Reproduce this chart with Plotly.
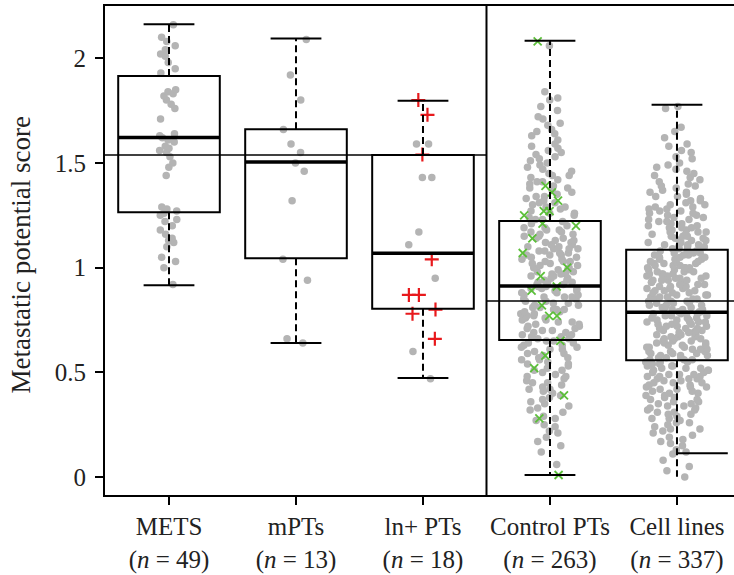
import plotly.graph_objects as go

# ---------------- data ----------------
categories = ["METS", "mPTs", "ln+ PTs", "Control PTs", "Cell lines"]
counts = [49, 13, 18, 263, 337]

# box statistics
q1 = [1.265, 1.045, 0.804, 0.655, 0.558]
median = [1.621, 1.505, 1.069, 0.913, 0.787]
q3 = [1.915, 1.661, 1.538, 1.223, 1.085]
whisker_low = [0.916, 0.640, 0.473, 0.010, 0.002]
whisker_high = [2.162, 2.094, 1.797, 2.084, 1.778]
cap_low = [0.916, 0.640, 0.473, 0.010, 0.114]

# reference (mean) levels of the two panels
ref_left = 1.538
ref_right = 0.841

mets = [2.16, 2.10, 2.08, 2.06, 2.04, 2.02, 2.01, 1.98, 1.95, 1.93, 1.85, 1.84, 1.83,
        1.82, 1.80, 1.78, 1.76, 1.71, 1.64, 1.63, 1.62, 1.61, 1.60, 1.58, 1.57, 1.56,
        1.55, 1.53, 1.50, 1.48, 1.44, 1.29, 1.28, 1.27, 1.26, 1.25, 1.23, 1.22, 1.20,
        1.18, 1.16, 1.14, 1.13, 1.12, 1.10, 1.05, 1.03, 1.00, 0.92]

mpts = [2.09, 1.92, 1.80, 1.66, 1.59, 1.55, 1.50, 1.46, 1.32, 1.04, 0.94, 0.66, 0.64]

ln_gray = [1.59, 1.59, 1.43, 1.43, 1.17, 1.11, 0.95, 0.60, 0.47]
ln_red = [1.80, 1.73, 1.54, 1.04, 0.87, 0.87, 0.80, 0.78, 0.66]

control_green = [2.08, 1.39, 1.36, 1.32, 1.27, 1.27, 1.25, 1.21, 1.20, 1.14, 1.07, 1.00,
                 0.96, 0.91, 0.89, 0.82, 0.77, 0.77, 0.65, 0.58, 0.52, 0.39, 0.28, 0.01]

control_gray = [
    2.06, 1.84, 1.81, 1.80, 1.77, 1.75, 1.72, 1.71,
    1.69, 1.68, 1.66, 1.65, 1.64, 1.63, 1.61,
    1.59, 1.58, 1.57, 1.56, 1.55, 1.54, 1.53, 1.52, 1.51, 1.50,
    1.49, 1.48, 1.47, 1.46, 1.45, 1.44, 1.44, 1.43, 1.42, 1.41, 1.41, 1.40,
    1.39, 1.38, 1.38, 1.37, 1.36, 1.35, 1.34, 1.34, 1.33, 1.32, 1.31, 1.31, 1.30,
    1.29, 1.29, 1.28, 1.27, 1.26, 1.26, 1.25, 1.24, 1.23, 1.23, 1.22, 1.21, 1.20,
    1.19, 1.19, 1.18, 1.18, 1.17, 1.17, 1.16, 1.16, 1.15, 1.15, 1.14, 1.14, 1.13, 1.13,
    1.12, 1.12, 1.11, 1.11, 1.10, 1.10,
    1.09, 1.09, 1.09, 1.08, 1.08, 1.07, 1.07, 1.06, 1.06, 1.06, 1.05, 1.05, 1.04, 1.04,
    1.03, 1.03, 1.03, 1.02, 1.02, 1.01, 1.01, 1.00, 1.00,
    0.99, 0.99, 0.98, 0.98, 0.97, 0.97, 0.97, 0.96, 0.96, 0.95, 0.95, 0.94, 0.94, 0.93,
    0.93, 0.93, 0.92, 0.92, 0.91, 0.91, 0.90, 0.90, 0.90,
    0.89, 0.89, 0.88, 0.88, 0.87, 0.87, 0.86, 0.86, 0.86, 0.85, 0.85, 0.84, 0.84, 0.83,
    0.83, 0.82, 0.82, 0.81, 0.81, 0.80, 0.80, 0.80,
    0.79, 0.79, 0.78, 0.78, 0.77, 0.77, 0.76, 0.76, 0.75, 0.75, 0.74, 0.74, 0.73, 0.73,
    0.72, 0.72, 0.71, 0.71, 0.70, 0.70,
    0.69, 0.69, 0.68, 0.68, 0.67, 0.67, 0.66, 0.66, 0.65, 0.65, 0.64, 0.64, 0.63, 0.63,
    0.62, 0.62, 0.61, 0.61, 0.60,
    0.59, 0.59, 0.58, 0.57, 0.57, 0.56, 0.56, 0.55, 0.54, 0.54, 0.53, 0.52, 0.51, 0.51, 0.50,
    0.49, 0.48, 0.48, 0.47, 0.46, 0.45, 0.45, 0.44, 0.43, 0.42, 0.42, 0.41, 0.40,
    0.39, 0.38, 0.37, 0.36, 0.35, 0.34, 0.33, 0.32, 0.31,
    0.29, 0.28, 0.27, 0.25, 0.24, 0.22, 0.21,
    0.19, 0.17, 0.15, 0.12, 0.06]

cell_lines = [
    1.77, 1.76, 1.67, 1.65, 1.62,
    1.59, 1.58, 1.56, 1.55, 1.53, 1.52, 1.50,
    1.49, 1.48, 1.47, 1.46, 1.45, 1.44, 1.43, 1.42, 1.41, 1.40,
    1.39, 1.39, 1.38, 1.37, 1.36, 1.36, 1.35, 1.34, 1.34, 1.33, 1.32, 1.32, 1.31, 1.30, 1.30,
    1.29, 1.29, 1.28, 1.28, 1.27, 1.27, 1.26, 1.26, 1.25, 1.25, 1.24, 1.24, 1.23, 1.23,
    1.22, 1.22, 1.21, 1.21, 1.20, 1.20,
    1.19, 1.19, 1.19, 1.18, 1.18, 1.17, 1.17, 1.17, 1.16, 1.16, 1.15, 1.15, 1.15, 1.14,
    1.14, 1.13, 1.13, 1.13, 1.12, 1.12, 1.11, 1.11, 1.11, 1.10, 1.10, 1.10,
    1.09, 1.09, 1.09, 1.08, 1.08, 1.08, 1.07, 1.07, 1.07, 1.06, 1.06, 1.06, 1.05, 1.05,
    1.05, 1.04, 1.04, 1.04, 1.03, 1.03, 1.03, 1.02, 1.02, 1.02, 1.01, 1.01, 1.01, 1.00,
    1.00, 1.00, 1.00,
    0.99, 0.99, 0.99, 0.98, 0.98, 0.98, 0.97, 0.97, 0.97, 0.97, 0.96, 0.96, 0.96, 0.95,
    0.95, 0.95, 0.94, 0.94, 0.94, 0.94, 0.93, 0.93, 0.93, 0.92, 0.92, 0.92, 0.91, 0.91,
    0.91, 0.90, 0.90, 0.90,
    0.89, 0.89, 0.89, 0.88, 0.88, 0.88, 0.87, 0.87, 0.87, 0.86, 0.86, 0.86, 0.85, 0.85,
    0.85, 0.84, 0.84, 0.84, 0.83, 0.83, 0.83, 0.82, 0.82, 0.82, 0.81, 0.81, 0.81, 0.80,
    0.80, 0.80,
    0.79, 0.79, 0.79, 0.78, 0.78, 0.78, 0.78, 0.77, 0.77, 0.77, 0.76, 0.76, 0.76, 0.75,
    0.75, 0.75, 0.74, 0.74, 0.74, 0.74, 0.73, 0.73, 0.73, 0.72, 0.72, 0.72, 0.71, 0.71,
    0.71, 0.70, 0.70, 0.70,
    0.69, 0.69, 0.69, 0.68, 0.68, 0.68, 0.67, 0.67, 0.67, 0.66, 0.66, 0.66, 0.65, 0.65,
    0.65, 0.64, 0.64, 0.64, 0.63, 0.63, 0.63, 0.62, 0.62, 0.62, 0.61, 0.61, 0.61, 0.60,
    0.60, 0.60,
    0.59, 0.59, 0.59, 0.58, 0.58, 0.58, 0.57, 0.57, 0.57, 0.56, 0.56, 0.56, 0.55, 0.55,
    0.55, 0.54, 0.54, 0.54, 0.53, 0.53, 0.53, 0.52, 0.52, 0.52, 0.51, 0.51, 0.51, 0.50,
    0.50,
    0.49, 0.49, 0.49, 0.48, 0.48, 0.48, 0.47, 0.47, 0.47, 0.46, 0.46, 0.45, 0.45, 0.45,
    0.44, 0.44, 0.43, 0.43, 0.43, 0.42, 0.42, 0.41, 0.41, 0.40, 0.40,
    0.39, 0.39, 0.38, 0.38, 0.37, 0.37, 0.36, 0.36, 0.35, 0.35, 0.34, 0.34, 0.33, 0.33,
    0.32, 0.32, 0.31, 0.31, 0.30, 0.30,
    0.29, 0.28, 0.28, 0.27, 0.26, 0.26, 0.25, 0.24, 0.23, 0.23, 0.22, 0.21, 0.20,
    0.19, 0.18, 0.17, 0.16, 0.15, 0.13, 0.12, 0.11,
    0.08, 0.05, 0.03, 0.00]

# ---------------- styling ----------------
FONT = "Liberation Serif"
TXT = "#222222"
GRAY = "#b4b4b4"
BOXW = 0.8
CAPW = 0.2
X_RANGE = [-0.504, 4.449]
Y_RANGE = [-0.0855, 2.2494]
SEP = 2.5

fig = go.Figure()


def points(idx, vals, jitter, color=GRAY, symbol="circle", size=7.5, lw=0):
    mk = dict(color=color, size=size, symbol=symbol, line=dict(width=lw, color=color))
    fig.add_trace(go.Box(
        x=[idx] * len(vals), y=vals, boxpoints="all", jitter=jitter, pointpos=0,
        width=BOXW, fillcolor="rgba(0,0,0,0)", line=dict(width=0, color="rgba(0,0,0,0)"),
        marker=mk, showlegend=False, hoveron="points"))


points(0, mets, 0.25)
points(1, mpts, 0.35)
points(2, ln_gray, 0.40)
points(2, ln_red, 0.45, color="#e8191c", symbol="cross-thin", size=10, lw=2.2)
points(3, control_gray, 0.58)
points(3, control_green, 0.6, color="#5cbf3a", symbol="x-thin", size=8, lw=1.8)
points(4, cell_lines, 0.62)

idx = list(range(len(categories)))

# boxes (whiskers drawn separately, dashed)
fig.add_trace(go.Box(
    x=idx, q1=q1, median=median, q3=q3, lowerfence=q1, upperfence=q3,
    width=BOXW, whiskerwidth=0, fillcolor="rgba(0,0,0,0)",
    line=dict(color="black", width=2), boxpoints=False, showlegend=False))

# dashed whiskers
wx, wy = [], []
for i in idx:
    wx += [i, i, None, i, i, None]
    wy += [q3[i], whisker_high[i], None, q1[i], whisker_low[i], None]
fig.add_trace(go.Scatter(x=wx, y=wy, mode="lines", showlegend=False,
                         line=dict(color="black", width=2, dash="7px,4px")))

# caps and medians
cx, cy = [], []
cap_low_span = [(-CAPW, CAPW)] * 4 + [(0.0, BOXW / 2)]
for i in idx:
    cx += [i - CAPW, i + CAPW, None]
    cy += [whisker_high[i], whisker_high[i], None]
    a, b = cap_low_span[i]
    cx += [i + a, i + b, None]
    cy += [cap_low[i], cap_low[i], None]
fig.add_trace(go.Scatter(x=cx, y=cy, mode="lines", showlegend=False,
                         line=dict(color="black", width=2)))
mx, my = [], []
for i in idx:
    mx += [i - BOXW / 2, i + BOXW / 2, None]
    my += [median[i], median[i], None]
fig.add_trace(go.Scatter(x=mx, y=my, mode="lines", showlegend=False,
                         line=dict(color="black", width=3.5)))

# reference lines and panel separator
fig.add_shape(type="line", xref="x", yref="y", x0=X_RANGE[0], x1=SEP, y0=ref_left, y1=ref_left,
              line=dict(color="black", width=1.6))
fig.add_shape(type="line", xref="x", yref="y", x0=SEP, x1=X_RANGE[1], y0=ref_right, y1=ref_right,
              line=dict(color="black", width=1.6))
fig.add_shape(type="line", xref="x", yref="paper", x0=SEP, x1=SEP, y0=0, y1=1,
              line=dict(color="black", width=2))

ticktext = [f"{c}<br>(<i>n</i> = {n})" for c, n in zip(categories, counts)]

fig.update_layout(
    width=734, height=575,
    margin=dict(l=105, r=0, t=6, b=80),
    paper_bgcolor="white", plot_bgcolor="white",
    boxmode="overlay",
    font=dict(family=FONT, size=25, color=TXT),
    xaxis=dict(range=X_RANGE, tickvals=idx, ticktext=ticktext, showgrid=False, zeroline=False,
               showline=True, mirror=True, linecolor="black", linewidth=2,
               ticks="outside", ticklen=8, tickwidth=2, tickcolor="black",
               tickfont=dict(family=FONT, size=25, color=TXT)),
    yaxis=dict(range=Y_RANGE, tickvals=[0, 0.5, 1, 1.5, 2], ticktext=["0", "0.5", "1", "1.5", "2"],
               showgrid=False, zeroline=False, showline=True, linecolor="black", linewidth=2,
               ticks="outside", ticklen=8, tickwidth=2, tickcolor="black",
               ticklabelstandoff=4,
               tickfont=dict(family=FONT, size=25, color=TXT)),
    annotations=[dict(text="Metastatic potential score", textangle=-90, xref="paper", yref="paper",
                      x=0, y=0.49, xanchor="center", yanchor="middle", xshift=-84,
                      showarrow=False, font=dict(family=FONT, size=27, color=TXT))],
)

fig.write_html("out.html")
